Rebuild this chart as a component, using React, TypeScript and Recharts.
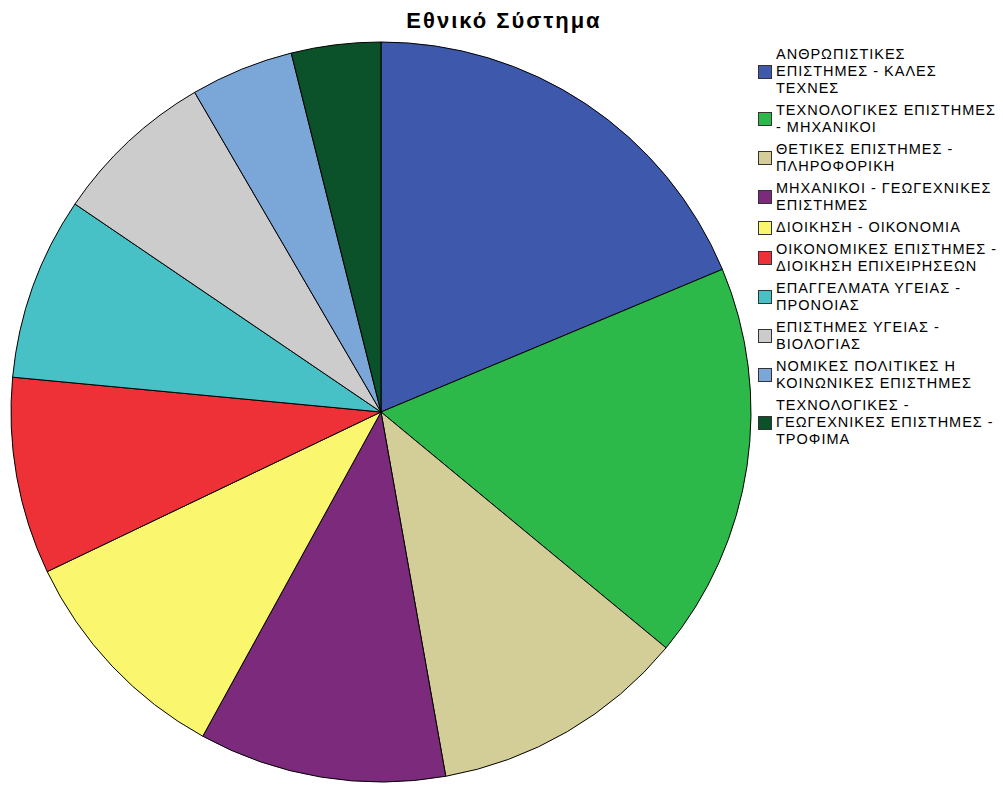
import React from "react";
import { PieChart, Pie, Cell, Legend } from "recharts";

const categories = [
  "ΑΝΘΡΩΠΙΣΤΙΚΕΣ\nΕΠΙΣΤΗΜΕΣ - ΚΑΛΕΣ\nΤΕΧΝΕΣ",
  "ΤΕΧΝΟΛΟΓΙΚΕΣ ΕΠΙΣΤΗΜΕΣ\n- ΜΗΧΑΝΙΚΟΙ",
  "ΘΕΤΙΚΕΣ ΕΠΙΣΤΗΜΕΣ -\nΠΛΗΡΟΦΟΡΙΚΗ",
  "ΜΗΧΑΝΙΚΟΙ - ΓΕΩΓΕΧΝΙΚΕΣ\nΕΠΙΣΤΗΜΕΣ",
  "ΔΙΟΙΚΗΣΗ - ΟΙΚΟΝΟΜΙΑ",
  "ΟΙΚΟΝΟΜΙΚΕΣ ΕΠΙΣΤΗΜΕΣ -\nΔΙΟΙΚΗΣΗ ΕΠΙΧΕΙΡΗΣΕΩΝ",
  "ΕΠΑΓΓΕΛΜΑΤΑ ΥΓΕΙΑΣ -\nΠΡΟΝΟΙΑΣ",
  "ΕΠΙΣΤΗΜΕΣ ΥΓΕΙΑΣ -\nΒΙΟΛΟΓΙΑΣ",
  "ΝΟΜΙΚΕΣ ΠΟΛΙΤΙΚΕΣ Η\nΚΟΙΝΩΝΙΚΕΣ ΕΠΙΣΤΗΜΕΣ",
  "ΤΕΧΝΟΛΟΓΙΚΕΣ -\nΓΕΩΓΕΧΝΙΚΕΣ ΕΠΙΣΤΗΜΕΣ -\nΤΡΟΦΙΜΑ",
];

const values = [18.7, 17.3, 11.2, 10.8, 9.9, 8.6, 8.0, 7.1, 4.5, 3.9];

const colors = [
  "#3E58AC",
  "#2DB84A",
  "#D3CE97",
  "#7B2A7C",
  "#FAF76F",
  "#EE3137",
  "#48C1C6",
  "#CCCCCC",
  "#7AA6D8",
  "#0B5129",
];

const title = "Εθνικό Σύστημα";

const data = categories.map((name, i) => ({ name, value: values[i] }));

const font = '"Liberation Sans", Arial, sans-serif';

const renderLegend = () => (
  <div
    style={{ fontFamily: font, fontSize: 14.5, letterSpacing: 1.0, color: "#000" }}
  >
    {categories.map((c, i) => (
      <div
        key={i}
        style={{ display: "flex", alignItems: "center", marginBottom: 5 }}
      >
        <div
          style={{
            width: 12,
            height: 12,
            background: colors[i],
            border: "1px solid #333",
            marginRight: 4,
            flexShrink: 0,
          }}
        />
        <div style={{ whiteSpace: "pre", lineHeight: "17px" }}>{c}</div>
      </div>
    ))}
  </div>
);

export default function App() {
  return (
    <div
      style={{
        position: "absolute",
        left: 0,
        top: 0,
        width: 1003,
        height: 787,
        background: "#fff",
      }}
    >
      <div
        style={{
          position: "absolute",
          left: 0,
          width: 1008,
          top: 8,
          textAlign: "center",
          fontFamily: font,
          fontWeight: "bold",
          fontSize: 22,
          letterSpacing: 2,
          color: "#000",
        }}
      >
        {title}
      </div>
      <PieChart
        width={1003}
        height={787}
        margin={{ top: 0, right: 0, bottom: 0, left: 0 }}
      >
        <Pie
          data={data}
          dataKey="value"
          nameKey="name"
          cx={381}
          cy={412}
          outerRadius={370}
          startAngle={90}
          endAngle={-270}
          stroke="#000"
          strokeWidth={1}
          isAnimationActive={false}
        >
          {data.map((d, i) => (
            <Cell key={i} fill={colors[i]} />
          ))}
        </Pie>
        <Legend
          content={renderLegend}
          wrapperStyle={{ left: 758, top: 46, width: 245 }}
        />
      </PieChart>
    </div>
  );
}
